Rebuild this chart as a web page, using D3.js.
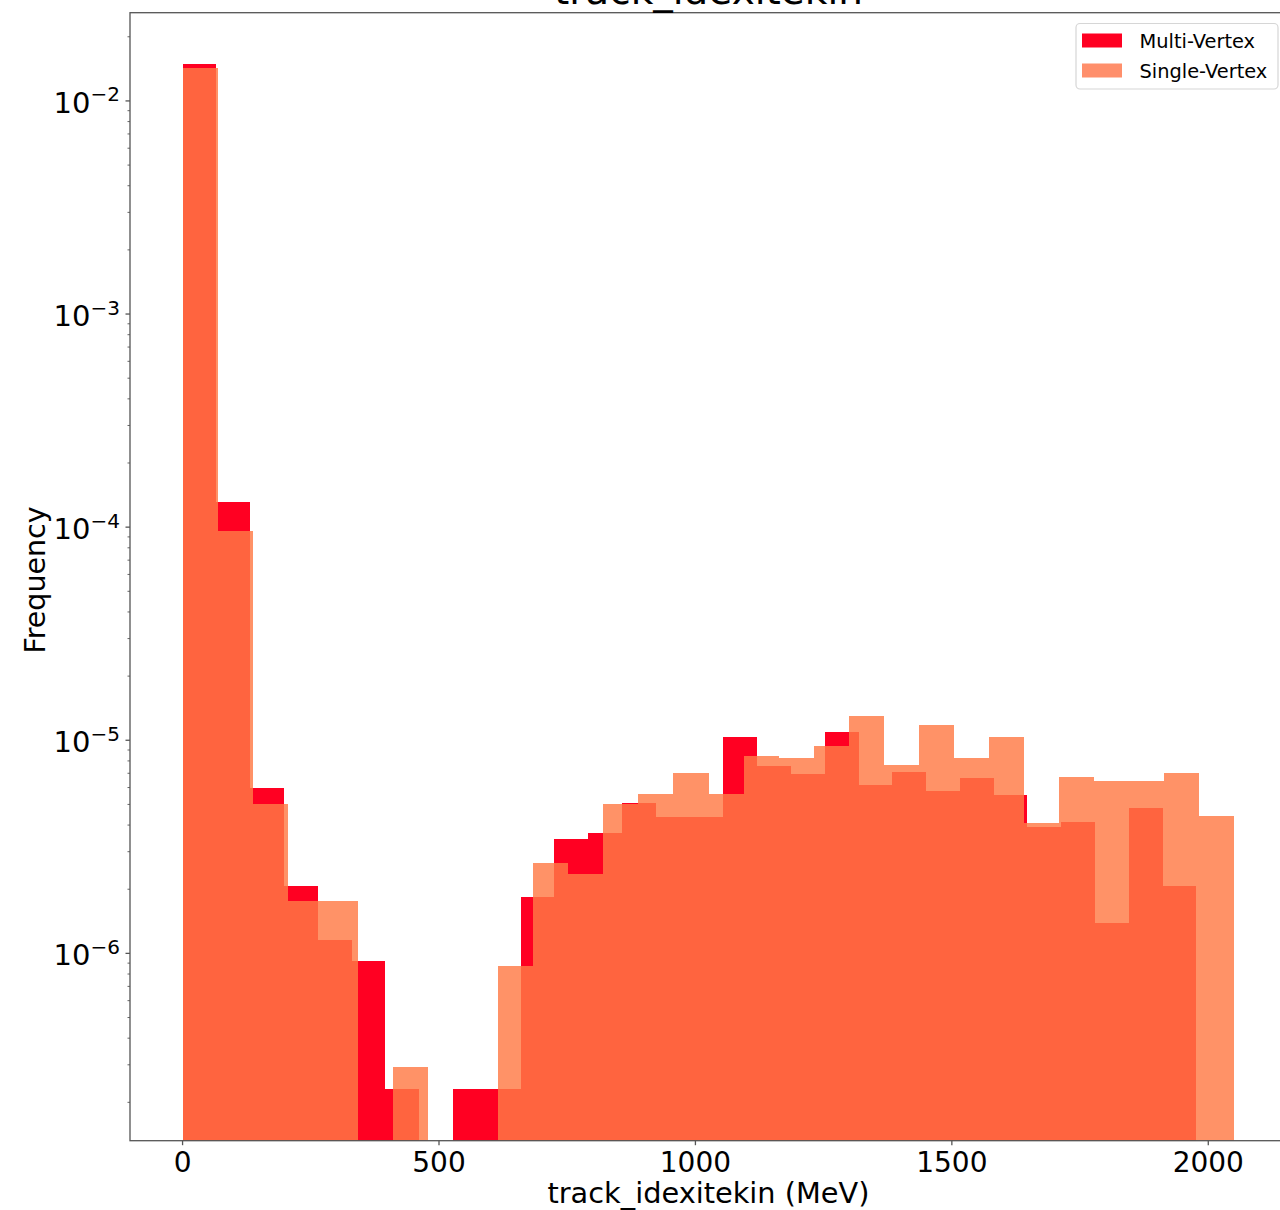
<!DOCTYPE html>
<html>
<head>
<meta charset="utf-8">
<script src="https://cdn.jsdelivr.net/npm/d3@7"></script>
<style>
  body { margin: 0; background: #fff; }
  text { font-family: "DejaVu Sans", sans-serif; fill: #000; }
</style>
</head>
<body>
<svg id="chart"></svg>
<script>
// histogram bin ranges (MeV), 30 bins each
const binCount = 30;
const multiRange = [0, 1977];
const singleRange = [0, 2051];

// normalised frequencies per bin
const multiValues = [
  0.01492, 1.309e-4, 5.97e-6, 2.07e-6, 1.156e-6, 9.21e-7, 2.31e-7, 0, 2.31e-7, 2.31e-7,
  1.845e-6, 3.45e-6, 3.67e-6, 5.06e-6, 4.38e-6, 4.38e-6, 1.033e-5, 7.60e-6, 6.97e-6, 1.090e-5,
  6.19e-6, 7.12e-6, 5.78e-6, 6.68e-6, 5.54e-6, 3.93e-6, 4.15e-6, 1.393e-6, 4.83e-6, 2.07e-6
];
const singleValues = [
  0.01433, 9.60e-5, 5.02e-6, 1.767e-6, 1.767e-6, 0, 2.93e-7, 0, 0, 8.77e-7,
  2.65e-6, 2.36e-6, 5.01e-6, 5.60e-6, 7.02e-6, 5.60e-6, 8.47e-6, 8.26e-6, 9.37e-6, 1.300e-5,
  7.68e-6, 1.176e-5, 8.26e-6, 1.033e-5, 4.11e-6, 6.75e-6, 6.44e-6, 6.44e-6, 7.02e-6, 4.43e-6
];

const xTicks = [0, 500, 1000, 1500, 2000];
const yTickExps = [-6, -5, -4, -3, -2];
const seriesNames = ['Multi-Vertex', 'Single-Vertex'];

const width = 1280, height = 1210;
const pLeft = 130, pRight = 1287, pTop = 12.7, pBottom = 1140.7;

const svg = d3.select('#chart').attr('width', width).attr('height', height);

const x = d3.scaleLinear().domain([-102.5, 2153.5]).range([pLeft, pRight]);
const y = d3.scaleLog().domain([Math.pow(10, -6.879), Math.pow(10, -1.586)]).range([pBottom, pTop]);

function toBins(range, values) {
  const w = (range[1] - range[0]) / binCount;
  return values.map((v, i) => ({ x0: range[0] + i * w, x1: range[0] + (i + 1) * w, v }));
}

svg.append('clipPath').attr('id', 'plotclip')
  .append('rect').attr('x', pLeft).attr('y', pTop).attr('width', pRight - pLeft).attr('height', pBottom - pTop);

const bars = svg.append('g').attr('clip-path', 'url(#plotclip)')
  .attr('shape-rendering', 'crispEdges');

// Multi-Vertex underneath
bars.selectAll('rect.multi')
  .data(toBins(multiRange, multiValues).filter(d => d.v > 0))
  .enter().append('rect')
  .attr('class', 'multi')
  .attr('x', d => x(d.x0))
  .attr('width', d => x(d.x1) - x(d.x0))
  .attr('y', d => y(d.v))
  .attr('height', d => pBottom - y(d.v))
  .attr('fill', '#ff0022');

// Single-Vertex on top, semi transparent
bars.selectAll('rect.single')
  .data(toBins(singleRange, singleValues).filter(d => d.v > 0))
  .enter().append('rect')
  .attr('class', 'single')
  .attr('x', d => x(d.x0))
  .attr('width', d => x(d.x1) - x(d.x0))
  .attr('y', d => y(d.v))
  .attr('height', d => pBottom - y(d.v))
  .attr('fill', '#ff7a45')
  .attr('fill-opacity', 0.82);

// spines
const spine = '#555';
svg.append('rect')
  .attr('x', pLeft).attr('y', pTop).attr('width', pRight - pLeft).attr('height', pBottom - pTop)
  .attr('fill', 'none').attr('stroke', spine).attr('stroke-width', 1.3);

// x axis ticks
const xg = svg.append('g');
xTicks.forEach(t => {
  xg.append('line').attr('x1', x(t)).attr('x2', x(t)).attr('y1', pBottom).attr('y2', pBottom + 4.5)
    .attr('stroke', spine).attr('stroke-width', 1.3);
  xg.append('text').attr('x', x(t)).attr('y', 1172).attr('text-anchor', 'middle')
    .attr('font-size', 28).text(t);
});

// y axis major + minor ticks
const yg = svg.append('g');
const [ymin, ymax] = y.domain();
for (let e = -7; e <= -1; e++) {
  for (let m = 1; m < 10; m++) {
    const v = m * Math.pow(10, e);
    if (v < ymin || v > ymax) continue;
    const major = m === 1;
    yg.append('line').attr('x1', pLeft).attr('x2', pLeft - (major ? 4.5 : 2.5))
      .attr('y1', y(v)).attr('y2', y(v))
      .attr('stroke', spine).attr('stroke-width', major ? 1.3 : 0.9);
  }
}
yTickExps.forEach(e => {
  const ty = y(Math.pow(10, e));
  const t = yg.append('text').attr('x', 120).attr('y', ty + 12).attr('text-anchor', 'end')
    .attr('font-size', 29);
  t.append('tspan').text('10');
  t.append('tspan').attr('font-size', 20).attr('dy', -11.5).text('\u2212' + Math.abs(e));
});

// labels
svg.append('text').attr('x', (pLeft + pRight) / 2).attr('y', 1203).attr('text-anchor', 'middle')
  .attr('font-size', 28.8).text('track_idexitekin (MeV)');
svg.append('text').attr('transform', 'translate(45,580) rotate(-90)').attr('text-anchor', 'middle')
  .attr('font-size', 28.5).text('Frequency');
svg.append('text').attr('x', (pLeft + pRight) / 2).attr('y', 3.5).attr('text-anchor', 'middle')
  .attr('font-size', 39).text('track_idexitekin');

// legend
const lg = svg.append('g');
lg.append('rect').attr('x', 1076).attr('y', 23.5).attr('width', 202).attr('height', 65.5)
  .attr('rx', 4).attr('fill', '#fff').attr('fill-opacity', 0.8)
  .attr('stroke', '#d6d6d6').attr('stroke-width', 1.2);
const legendColors = ['#ff0022', '#ff8f6b'];
seriesNames.forEach((name, i) => {
  lg.append('rect').attr('x', 1082).attr('y', 33.5 + i * 30).attr('width', 40).attr('height', 14)
    .attr('fill', legendColors[i]);
  lg.append('text').attr('x', 1139.5).attr('y', 47.5 + i * 30).attr('font-size', 19.4).text(name);
});
</script>
</body>
</html>
